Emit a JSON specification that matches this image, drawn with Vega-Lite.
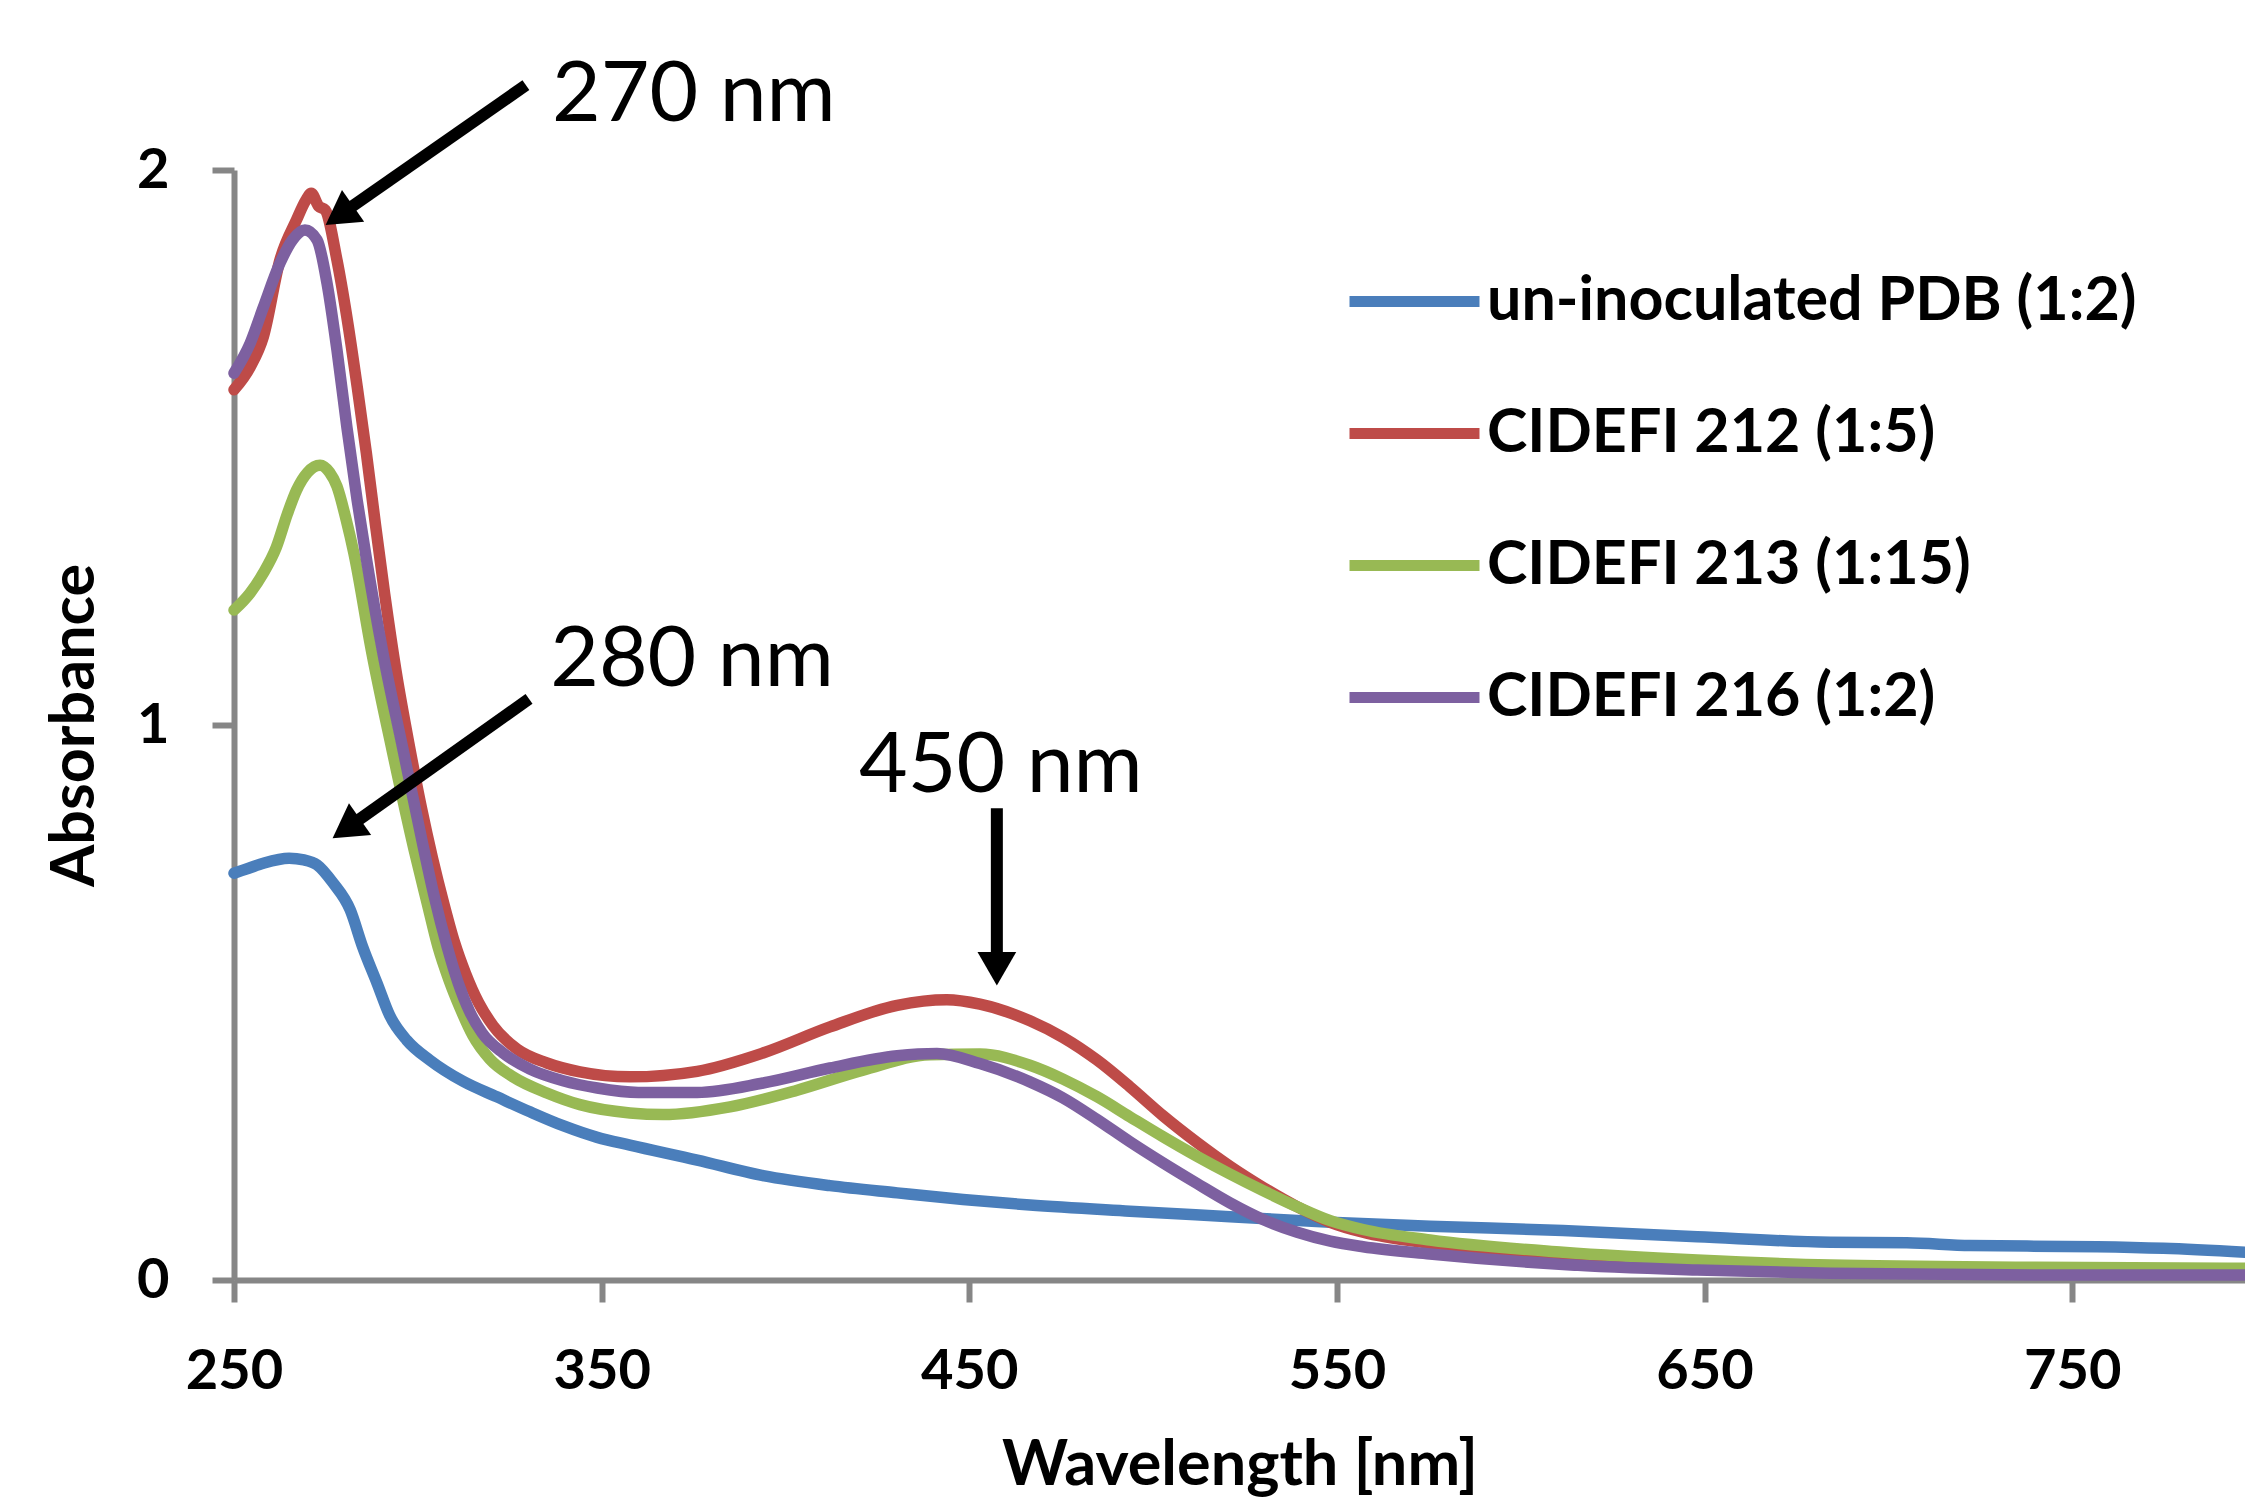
{
  "$schema": "https://vega.github.io/schema/vega-lite/v6.json",
  "autosize": {"type": "none"},
  "width": 2011,
  "height": 1110,
  "padding": {"left": 234, "top": 170, "right": 0, "bottom": 222},
  "background": "white",
  "config": {
    "view": {"stroke": null},
    "axis": {
      "grid": false,
      "domainColor": "#868686",
      "domainWidth": 6,
      "tickColor": "#868686",
      "tickWidth": 6,
      "tickSize": 22,
      "labelFont": "Lato",
      "labelFontWeight": "bold",
      "labelFontSize": 56,
      "labelColor": "#000000",
      "labelFlush": false,
      "labelOverlap": false,
      "titleFont": "Lato",
      "titleFontWeight": "bold",
      "titleColor": "#000000"
    },
    "legend": {
      "orient": "none",
      "legendX": 1110,
      "legendY": 61,
      "padding": 0,
      "symbolType": "stroke",
      "symbolSize": 16900,
      "symbolStrokeWidth": 11,
      "labelFont": "Lato",
      "labelFontWeight": "bold",
      "labelFontSize": 61,
      "labelColor": "#000000",
      "labelOffset": 2,
      "labelLimit": 1000,
      "rowPadding": 31
    }
  },
  "datasets": {
    "spectra": [
      {"sample": "un-inoculated PDB (1:2)", "wavelength": 250, "absorbance": 0.733},
      {"sample": "un-inoculated PDB (1:2)", "wavelength": 254, "absorbance": 0.742},
      {"sample": "un-inoculated PDB (1:2)", "wavelength": 258, "absorbance": 0.751},
      {"sample": "un-inoculated PDB (1:2)", "wavelength": 265, "absorbance": 0.760},
      {"sample": "un-inoculated PDB (1:2)", "wavelength": 269, "absorbance": 0.757},
      {"sample": "un-inoculated PDB (1:2)", "wavelength": 272.6, "absorbance": 0.748},
      {"sample": "un-inoculated PDB (1:2)", "wavelength": 277, "absorbance": 0.715},
      {"sample": "un-inoculated PDB (1:2)", "wavelength": 281.6, "absorbance": 0.667},
      {"sample": "un-inoculated PDB (1:2)", "wavelength": 285, "absorbance": 0.600},
      {"sample": "un-inoculated PDB (1:2)", "wavelength": 288.9, "absorbance": 0.535},
      {"sample": "un-inoculated PDB (1:2)", "wavelength": 292.4, "absorbance": 0.476},
      {"sample": "un-inoculated PDB (1:2)", "wavelength": 297, "absorbance": 0.432},
      {"sample": "un-inoculated PDB (1:2)", "wavelength": 303.3, "absorbance": 0.396},
      {"sample": "un-inoculated PDB (1:2)", "wavelength": 312.3, "absorbance": 0.358},
      {"sample": "un-inoculated PDB (1:2)", "wavelength": 321.5, "absorbance": 0.330},
      {"sample": "un-inoculated PDB (1:2)", "wavelength": 330.5, "absorbance": 0.303},
      {"sample": "un-inoculated PDB (1:2)", "wavelength": 339.5, "absorbance": 0.278},
      {"sample": "un-inoculated PDB (1:2)", "wavelength": 348.8, "absorbance": 0.257},
      {"sample": "un-inoculated PDB (1:2)", "wavelength": 357.7, "absorbance": 0.243},
      {"sample": "un-inoculated PDB (1:2)", "wavelength": 376, "absorbance": 0.216},
      {"sample": "un-inoculated PDB (1:2)", "wavelength": 393.9, "absorbance": 0.188},
      {"sample": "un-inoculated PDB (1:2)", "wavelength": 412.1, "absorbance": 0.170},
      {"sample": "un-inoculated PDB (1:2)", "wavelength": 430.4, "absorbance": 0.157},
      {"sample": "un-inoculated PDB (1:2)", "wavelength": 448.3, "absorbance": 0.145},
      {"sample": "un-inoculated PDB (1:2)", "wavelength": 466.5, "absorbance": 0.135},
      {"sample": "un-inoculated PDB (1:2)", "wavelength": 493.7, "absorbance": 0.124},
      {"sample": "un-inoculated PDB (1:2)", "wavelength": 520.9, "absorbance": 0.114},
      {"sample": "un-inoculated PDB (1:2)", "wavelength": 548.2, "absorbance": 0.104},
      {"sample": "un-inoculated PDB (1:2)", "wavelength": 575.3, "absorbance": 0.097},
      {"sample": "un-inoculated PDB (1:2)", "wavelength": 611.5, "absorbance": 0.089},
      {"sample": "un-inoculated PDB (1:2)", "wavelength": 648, "absorbance": 0.078},
      {"sample": "un-inoculated PDB (1:2)", "wavelength": 684.2, "absorbance": 0.068},
      {"sample": "un-inoculated PDB (1:2)", "wavelength": 705, "absorbance": 0.067},
      {"sample": "un-inoculated PDB (1:2)", "wavelength": 722.3, "absorbance": 0.062},
      {"sample": "un-inoculated PDB (1:2)", "wavelength": 756.8, "absorbance": 0.060},
      {"sample": "un-inoculated PDB (1:2)", "wavelength": 774.8, "absorbance": 0.057},
      {"sample": "un-inoculated PDB (1:2)", "wavelength": 797, "absorbance": 0.050},

      {"sample": "CIDEFI 212 (1:5)", "wavelength": 250, "absorbance": 1.604},
      {"sample": "CIDEFI 212 (1:5)", "wavelength": 254.4, "absorbance": 1.645},
      {"sample": "CIDEFI 212 (1:5)", "wavelength": 258, "absorbance": 1.700},
      {"sample": "CIDEFI 212 (1:5)", "wavelength": 262.5, "absorbance": 1.838},
      {"sample": "CIDEFI 212 (1:5)", "wavelength": 267, "absorbance": 1.910},
      {"sample": "CIDEFI 212 (1:5)", "wavelength": 269.5, "absorbance": 1.945},
      {"sample": "CIDEFI 212 (1:5)", "wavelength": 271, "absorbance": 1.958},
      {"sample": "CIDEFI 212 (1:5)", "wavelength": 273, "absorbance": 1.935},
      {"sample": "CIDEFI 212 (1:5)", "wavelength": 274.8, "absorbance": 1.928},
      {"sample": "CIDEFI 212 (1:5)", "wavelength": 278, "absorbance": 1.838},
      {"sample": "CIDEFI 212 (1:5)", "wavelength": 280.7, "absorbance": 1.735},
      {"sample": "CIDEFI 212 (1:5)", "wavelength": 283.5, "absorbance": 1.610},
      {"sample": "CIDEFI 212 (1:5)", "wavelength": 286, "absorbance": 1.490},
      {"sample": "CIDEFI 212 (1:5)", "wavelength": 288.5, "absorbance": 1.360},
      {"sample": "CIDEFI 212 (1:5)", "wavelength": 291, "absorbance": 1.235},
      {"sample": "CIDEFI 212 (1:5)", "wavelength": 294, "absorbance": 1.100},
      {"sample": "CIDEFI 212 (1:5)", "wavelength": 297.9, "absorbance": 0.955},
      {"sample": "CIDEFI 212 (1:5)", "wavelength": 301, "absorbance": 0.850},
      {"sample": "CIDEFI 212 (1:5)", "wavelength": 304, "absorbance": 0.760},
      {"sample": "CIDEFI 212 (1:5)", "wavelength": 307, "absorbance": 0.680},
      {"sample": "CIDEFI 212 (1:5)", "wavelength": 310, "absorbance": 0.608},
      {"sample": "CIDEFI 212 (1:5)", "wavelength": 313, "absorbance": 0.552},
      {"sample": "CIDEFI 212 (1:5)", "wavelength": 316.5, "absorbance": 0.500},
      {"sample": "CIDEFI 212 (1:5)", "wavelength": 320.5, "absorbance": 0.458},
      {"sample": "CIDEFI 212 (1:5)", "wavelength": 327, "absorbance": 0.416},
      {"sample": "CIDEFI 212 (1:5)", "wavelength": 335.1, "absorbance": 0.391},
      {"sample": "CIDEFI 212 (1:5)", "wavelength": 344.1, "absorbance": 0.375},
      {"sample": "CIDEFI 212 (1:5)", "wavelength": 357.7, "absorbance": 0.366},
      {"sample": "CIDEFI 212 (1:5)", "wavelength": 376, "absorbance": 0.376},
      {"sample": "CIDEFI 212 (1:5)", "wavelength": 393.9, "absorbance": 0.409},
      {"sample": "CIDEFI 212 (1:5)", "wavelength": 412.1, "absorbance": 0.456},
      {"sample": "CIDEFI 212 (1:5)", "wavelength": 430.4, "absorbance": 0.495},
      {"sample": "CIDEFI 212 (1:5)", "wavelength": 443.9, "absorbance": 0.505},
      {"sample": "CIDEFI 212 (1:5)", "wavelength": 452.9, "absorbance": 0.497},
      {"sample": "CIDEFI 212 (1:5)", "wavelength": 466.5, "absorbance": 0.467},
      {"sample": "CIDEFI 212 (1:5)", "wavelength": 475.5, "absorbance": 0.437},
      {"sample": "CIDEFI 212 (1:5)", "wavelength": 484.8, "absorbance": 0.396},
      {"sample": "CIDEFI 212 (1:5)", "wavelength": 493.7, "absorbance": 0.348},
      {"sample": "CIDEFI 212 (1:5)", "wavelength": 502.7, "absorbance": 0.296},
      {"sample": "CIDEFI 212 (1:5)", "wavelength": 511.9, "absorbance": 0.248},
      {"sample": "CIDEFI 212 (1:5)", "wavelength": 520.9, "absorbance": 0.205},
      {"sample": "CIDEFI 212 (1:5)", "wavelength": 529.9, "absorbance": 0.167},
      {"sample": "CIDEFI 212 (1:5)", "wavelength": 539.2, "absorbance": 0.132},
      {"sample": "CIDEFI 212 (1:5)", "wavelength": 548.2, "absorbance": 0.104},
      {"sample": "CIDEFI 212 (1:5)", "wavelength": 557.1, "absorbance": 0.086},
      {"sample": "CIDEFI 212 (1:5)", "wavelength": 575.3, "absorbance": 0.066},
      {"sample": "CIDEFI 212 (1:5)", "wavelength": 611.5, "absorbance": 0.046},
      {"sample": "CIDEFI 212 (1:5)", "wavelength": 648, "absorbance": 0.033},
      {"sample": "CIDEFI 212 (1:5)", "wavelength": 684.2, "absorbance": 0.025},
      {"sample": "CIDEFI 212 (1:5)", "wavelength": 740, "absorbance": 0.020},
      {"sample": "CIDEFI 212 (1:5)", "wavelength": 797, "absorbance": 0.018},

      {"sample": "CIDEFI 213 (1:15)", "wavelength": 250, "absorbance": 1.207},
      {"sample": "CIDEFI 213 (1:15)", "wavelength": 254.4, "absorbance": 1.238},
      {"sample": "CIDEFI 213 (1:15)", "wavelength": 258, "absorbance": 1.274},
      {"sample": "CIDEFI 213 (1:15)", "wavelength": 261.5, "absorbance": 1.320},
      {"sample": "CIDEFI 213 (1:15)", "wavelength": 264.5, "absorbance": 1.380},
      {"sample": "CIDEFI 213 (1:15)", "wavelength": 267, "absorbance": 1.423},
      {"sample": "CIDEFI 213 (1:15)", "wavelength": 270, "absorbance": 1.455},
      {"sample": "CIDEFI 213 (1:15)", "wavelength": 273.4, "absorbance": 1.468},
      {"sample": "CIDEFI 213 (1:15)", "wavelength": 276, "absorbance": 1.455},
      {"sample": "CIDEFI 213 (1:15)", "wavelength": 278, "absorbance": 1.430},
      {"sample": "CIDEFI 213 (1:15)", "wavelength": 280.5, "absorbance": 1.370},
      {"sample": "CIDEFI 213 (1:15)", "wavelength": 282.6, "absorbance": 1.310},
      {"sample": "CIDEFI 213 (1:15)", "wavelength": 287.5, "absorbance": 1.130},
      {"sample": "CIDEFI 213 (1:15)", "wavelength": 293, "absorbance": 0.955},
      {"sample": "CIDEFI 213 (1:15)", "wavelength": 299, "absorbance": 0.775},
      {"sample": "CIDEFI 213 (1:15)", "wavelength": 302.5, "absorbance": 0.680},
      {"sample": "CIDEFI 213 (1:15)", "wavelength": 305.5, "absorbance": 0.600},
      {"sample": "CIDEFI 213 (1:15)", "wavelength": 308.5, "absorbance": 0.540},
      {"sample": "CIDEFI 213 (1:15)", "wavelength": 311.5, "absorbance": 0.490},
      {"sample": "CIDEFI 213 (1:15)", "wavelength": 315, "absorbance": 0.440},
      {"sample": "CIDEFI 213 (1:15)", "wavelength": 319.6, "absorbance": 0.398},
      {"sample": "CIDEFI 213 (1:15)", "wavelength": 325.9, "absorbance": 0.366},
      {"sample": "CIDEFI 213 (1:15)", "wavelength": 335.1, "absorbance": 0.337},
      {"sample": "CIDEFI 213 (1:15)", "wavelength": 344.1, "absorbance": 0.316},
      {"sample": "CIDEFI 213 (1:15)", "wavelength": 357.7, "absorbance": 0.301},
      {"sample": "CIDEFI 213 (1:15)", "wavelength": 366.7, "absorbance": 0.298},
      {"sample": "CIDEFI 213 (1:15)", "wavelength": 384.9, "absorbance": 0.312},
      {"sample": "CIDEFI 213 (1:15)", "wavelength": 403.2, "absorbance": 0.342},
      {"sample": "CIDEFI 213 (1:15)", "wavelength": 421.1, "absorbance": 0.378},
      {"sample": "CIDEFI 213 (1:15)", "wavelength": 439.3, "absorbance": 0.406},
      {"sample": "CIDEFI 213 (1:15)", "wavelength": 452.9, "absorbance": 0.407},
      {"sample": "CIDEFI 213 (1:15)", "wavelength": 466.5, "absorbance": 0.387},
      {"sample": "CIDEFI 213 (1:15)", "wavelength": 475.5, "absorbance": 0.362},
      {"sample": "CIDEFI 213 (1:15)", "wavelength": 484.8, "absorbance": 0.330},
      {"sample": "CIDEFI 213 (1:15)", "wavelength": 493.7, "absorbance": 0.294},
      {"sample": "CIDEFI 213 (1:15)", "wavelength": 502.7, "absorbance": 0.258},
      {"sample": "CIDEFI 213 (1:15)", "wavelength": 511.9, "absorbance": 0.223},
      {"sample": "CIDEFI 213 (1:15)", "wavelength": 520.9, "absorbance": 0.191},
      {"sample": "CIDEFI 213 (1:15)", "wavelength": 529.9, "absorbance": 0.161},
      {"sample": "CIDEFI 213 (1:15)", "wavelength": 539.2, "absorbance": 0.132},
      {"sample": "CIDEFI 213 (1:15)", "wavelength": 548.2, "absorbance": 0.107},
      {"sample": "CIDEFI 213 (1:15)", "wavelength": 557.1, "absorbance": 0.091},
      {"sample": "CIDEFI 213 (1:15)", "wavelength": 575.3, "absorbance": 0.072},
      {"sample": "CIDEFI 213 (1:15)", "wavelength": 611.5, "absorbance": 0.050},
      {"sample": "CIDEFI 213 (1:15)", "wavelength": 648, "absorbance": 0.036},
      {"sample": "CIDEFI 213 (1:15)", "wavelength": 684.2, "absorbance": 0.027},
      {"sample": "CIDEFI 213 (1:15)", "wavelength": 740, "absorbance": 0.023},
      {"sample": "CIDEFI 213 (1:15)", "wavelength": 797, "absorbance": 0.021},

      {"sample": "CIDEFI 216 (1:2)", "wavelength": 250, "absorbance": 1.634},
      {"sample": "CIDEFI 216 (1:2)", "wavelength": 254.4, "absorbance": 1.688},
      {"sample": "CIDEFI 216 (1:2)", "wavelength": 258, "absorbance": 1.753},
      {"sample": "CIDEFI 216 (1:2)", "wavelength": 262.5, "absorbance": 1.832},
      {"sample": "CIDEFI 216 (1:2)", "wavelength": 265.9, "absorbance": 1.874},
      {"sample": "CIDEFI 216 (1:2)", "wavelength": 269.3, "absorbance": 1.892},
      {"sample": "CIDEFI 216 (1:2)", "wavelength": 272.6, "absorbance": 1.874},
      {"sample": "CIDEFI 216 (1:2)", "wavelength": 275.3, "absorbance": 1.796},
      {"sample": "CIDEFI 216 (1:2)", "wavelength": 278, "absorbance": 1.676},
      {"sample": "CIDEFI 216 (1:2)", "wavelength": 280.7, "absorbance": 1.537},
      {"sample": "CIDEFI 216 (1:2)", "wavelength": 283.5, "absorbance": 1.405},
      {"sample": "CIDEFI 216 (1:2)", "wavelength": 286, "absorbance": 1.300},
      {"sample": "CIDEFI 216 (1:2)", "wavelength": 290.5, "absorbance": 1.130},
      {"sample": "CIDEFI 216 (1:2)", "wavelength": 296, "absorbance": 0.955},
      {"sample": "CIDEFI 216 (1:2)", "wavelength": 301.5, "absorbance": 0.780},
      {"sample": "CIDEFI 216 (1:2)", "wavelength": 304.5, "absorbance": 0.690},
      {"sample": "CIDEFI 216 (1:2)", "wavelength": 308, "absorbance": 0.600},
      {"sample": "CIDEFI 216 (1:2)", "wavelength": 311, "absorbance": 0.535},
      {"sample": "CIDEFI 216 (1:2)", "wavelength": 314, "absorbance": 0.485},
      {"sample": "CIDEFI 216 (1:2)", "wavelength": 317.5, "absorbance": 0.445},
      {"sample": "CIDEFI 216 (1:2)", "wavelength": 323.2, "absorbance": 0.409},
      {"sample": "CIDEFI 216 (1:2)", "wavelength": 330.5, "absorbance": 0.380},
      {"sample": "CIDEFI 216 (1:2)", "wavelength": 339.5, "absorbance": 0.359},
      {"sample": "CIDEFI 216 (1:2)", "wavelength": 348.8, "absorbance": 0.346},
      {"sample": "CIDEFI 216 (1:2)", "wavelength": 360, "absorbance": 0.338},
      {"sample": "CIDEFI 216 (1:2)", "wavelength": 376, "absorbance": 0.338},
      {"sample": "CIDEFI 216 (1:2)", "wavelength": 393.9, "absorbance": 0.355},
      {"sample": "CIDEFI 216 (1:2)", "wavelength": 412.1, "absorbance": 0.382},
      {"sample": "CIDEFI 216 (1:2)", "wavelength": 430.4, "absorbance": 0.404},
      {"sample": "CIDEFI 216 (1:2)", "wavelength": 441.2, "absorbance": 0.408},
      {"sample": "CIDEFI 216 (1:2)", "wavelength": 452.9, "absorbance": 0.390},
      {"sample": "CIDEFI 216 (1:2)", "wavelength": 466.5, "absorbance": 0.357},
      {"sample": "CIDEFI 216 (1:2)", "wavelength": 475.5, "absorbance": 0.328},
      {"sample": "CIDEFI 216 (1:2)", "wavelength": 484.8, "absorbance": 0.289},
      {"sample": "CIDEFI 216 (1:2)", "wavelength": 493.7, "absorbance": 0.249},
      {"sample": "CIDEFI 216 (1:2)", "wavelength": 502.7, "absorbance": 0.211},
      {"sample": "CIDEFI 216 (1:2)", "wavelength": 511.9, "absorbance": 0.174},
      {"sample": "CIDEFI 216 (1:2)", "wavelength": 520.9, "absorbance": 0.139},
      {"sample": "CIDEFI 216 (1:2)", "wavelength": 529.9, "absorbance": 0.109},
      {"sample": "CIDEFI 216 (1:2)", "wavelength": 539.2, "absorbance": 0.086},
      {"sample": "CIDEFI 216 (1:2)", "wavelength": 548.2, "absorbance": 0.070},
      {"sample": "CIDEFI 216 (1:2)", "wavelength": 557.1, "absorbance": 0.060},
      {"sample": "CIDEFI 216 (1:2)", "wavelength": 575.3, "absorbance": 0.047},
      {"sample": "CIDEFI 216 (1:2)", "wavelength": 611.5, "absorbance": 0.028},
      {"sample": "CIDEFI 216 (1:2)", "wavelength": 648, "absorbance": 0.018},
      {"sample": "CIDEFI 216 (1:2)", "wavelength": 684.2, "absorbance": 0.012},
      {"sample": "CIDEFI 216 (1:2)", "wavelength": 740, "absorbance": 0.009},
      {"sample": "CIDEFI 216 (1:2)", "wavelength": 797, "absorbance": 0.009}
    ],
    "labels": [
      {"text": "270 nm", "wavelength": 336.5, "absorbance": 2.088},
      {"text": "280 nm", "wavelength": 336.0, "absorbance": 1.070},
      {"text": "450 nm", "wavelength": 420.0, "absorbance": 0.879}
    ],
    "arrows": [
      {"peak": "270", "wavelength": 329.4, "absorbance": 2.153, "wavelength2": 279.9, "absorbance2": 1.924},
      {"peak": "280", "wavelength": 330.25, "absorbance": 1.047, "wavelength2": 281.8, "absorbance2": 0.819},
      {"peak": "450", "wavelength": 457.5, "absorbance": 0.850, "wavelength2": 457.5, "absorbance2": 0.571}
    ]
  },
  "layer": [
    {
      "data": {"name": "spectra"},
      "mark": {"type": "line", "strokeWidth": 11.5, "interpolate": "monotone", "strokeCap": "round", "strokeJoin": "round"},
      "encoding": {
        "x": {
          "field": "wavelength", "type": "quantitative",
          "scale": {"domain": [250, 797], "nice": false, "zero": false},
          "axis": {"values": [250, 350, 450, 550, 650, 750], "title": "Wavelength [nm]", "titleFontSize": 63, "labelPadding": 42, "titlePadding": 35}
        },
        "y": {
          "field": "absorbance", "type": "quantitative",
          "scale": {"domain": [0, 2], "nice": false},
          "axis": {"values": [0, 1, 2], "format": "~g", "title": "Absorbance", "titleFontSize": 61, "labelPadding": 43, "titlePadding": 30}
        },
        "color": {
          "field": "sample", "type": "nominal",
          "scale": {
            "domain": ["un-inoculated PDB (1:2)", "CIDEFI 212 (1:5)", "CIDEFI 213 (1:15)", "CIDEFI 216 (1:2)"],
            "range": ["#4A7EBB", "#BE4B48", "#98B954", "#7D60A0"]
          },
          "legend": {"title": null}
        },
        "order": {"field": "wavelength", "type": "quantitative"}
      }
    },
    {
      "data": {"name": "arrows"},
      "mark": {"type": "rule", "color": "#000000", "strokeWidth": 12},
      "encoding": {
        "x": {"field": "wavelength", "type": "quantitative"},
        "y": {"field": "absorbance", "type": "quantitative"},
        "x2": {"field": "wavelength2"},
        "y2": {"field": "absorbance2"}
      }
    },
    {
      "data": {"name": "arrows"},
      "transform": [{"filter": "datum.peak != '450'"}],
      "mark": {"type": "point", "shape": "triangle", "filled": true, "color": "#000000", "opacity": 1, "size": 1500, "angle": 235, "strokeWidth": 0},
      "encoding": {
        "x": {"field": "wavelength2", "type": "quantitative"},
        "y": {"field": "absorbance2", "type": "quantitative"}
      }
    },
    {
      "data": {"name": "arrows"},
      "transform": [{"filter": "datum.peak == '450'"}],
      "mark": {"type": "point", "shape": "triangle", "filled": true, "color": "#000000", "opacity": 1, "size": 1500, "angle": 180, "strokeWidth": 0},
      "encoding": {
        "x": {"field": "wavelength2", "type": "quantitative"},
        "y": {"field": "absorbance2", "type": "quantitative"}
      }
    },
    {
      "data": {"name": "labels"},
      "mark": {"type": "text", "font": "Lato", "fontSize": 84, "align": "left", "baseline": "alphabetic", "color": "#000000"},
      "encoding": {
        "x": {"field": "wavelength", "type": "quantitative"},
        "y": {"field": "absorbance", "type": "quantitative"},
        "text": {"field": "text"}
      }
    }
  ]
}
